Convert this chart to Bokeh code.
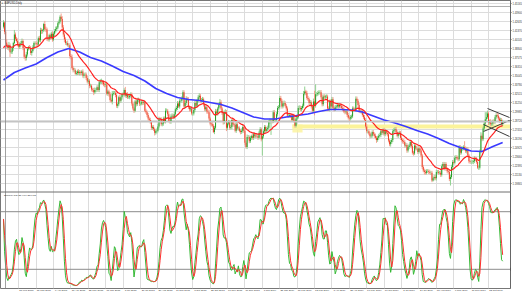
import numpy as np
from bokeh.plotting import figure
from bokeh.models import (Range1d, FixedTicker, Grid, Label, Span, NumeralTickFormatter,
                          ColumnDataSource, AllLabels)
from bokeh.embed import file_html
from bokeh.resources import INLINE

# ---------------- data (GBPUSD daily, one line per week) ----------------
first_open = 1.4190
close = [
 1.4250, 1.4120,
 1.3970, 1.3920, 1.3890, 1.3930, 1.3830,
 1.3840, 1.3890, 1.3960, 1.4080, 1.4020,
 1.3990, 1.3940, 1.3910, 1.3950, 1.3960,
 1.3990, 1.3890, 1.3770, 1.3750, 1.3800,
 1.3880, 1.3900, 1.3890, 1.3820, 1.3850,
 1.3900, 1.3960, 1.3960, 1.3950, 1.3940,
 1.4030, 1.4000, 1.4140, 1.4130, 1.4140,
 1.4230, 1.4160, 1.4150, 1.4020, 1.4010,
 1.4070, 1.4040, 1.4090, 1.4010, 1.4090,
 1.4130, 1.4160, 1.4180, 1.4240, 1.4260,
 1.4330, 1.4300, 1.4180, 1.4080, 1.4010,
 1.3960, 1.3960, 1.3930, 1.3930, 1.3780,
 1.3760, 1.3610, 1.3580, 1.3580, 1.3530,
 1.3540, 1.3560, 1.3540, 1.3550, 1.3540,
 1.3560, 1.3500, 1.3520, 1.3520, 1.3470,
 1.3420, 1.3430, 1.3360, 1.3360, 1.3310,
 1.3300, 1.3270, 1.3300, 1.3300, 1.3340,
 1.3300, 1.3410, 1.3420, 1.3420, 1.3410,
 1.3380, 1.3370, 1.3380, 1.3250, 1.3280,
 1.3240, 1.3160, 1.3140, 1.3250, 1.3260,
 1.3260, 1.3230, 1.3080, 1.3100, 1.3200,
 1.3150, 1.3200, 1.3240, 1.3240, 1.3300,
 1.3220, 1.3240, 1.3200, 1.3200, 1.3220,
 1.3240, 1.3110, 1.3040, 1.3010, 1.3140,
 1.3100, 1.3160, 1.3160, 1.3110, 1.3110,
 1.3130, 1.3120, 1.3130, 1.3010, 1.2990,
 1.2950, 1.2900, 1.2880, 1.2850, 1.2770,
 1.2780, 1.2750, 1.2700, 1.2720, 1.2730,
 1.2790, 1.2890, 1.2890, 1.2820, 1.2830,
 1.2900, 1.2860, 1.3010, 1.3010, 1.2960,
 1.2870, 1.2860, 1.2930, 1.2940, 1.2920,
 1.2960, 1.3030, 1.3050, 1.3110, 1.3070,
 1.3150, 1.3150, 1.3190, 1.3270, 1.3070,
 1.3120, 1.3180, 1.3170, 1.3060, 1.3030,
 1.3040, 1.2970, 1.2970, 1.3020, 1.3120,
 1.3080, 1.3150, 1.3200, 1.3220, 1.3150,
 1.3160, 1.3170, 1.3100, 1.3030, 1.3060,
 1.3000, 1.2990, 1.2900, 1.2830, 1.2820,
 1.2800, 1.2710, 1.2770, 1.3000, 1.2970,
 1.3040, 1.3090, 1.3130, 1.3040, 1.2980,
 1.2850, 1.2990, 1.2990, 1.2770, 1.2830,
 1.2850, 1.2770, 1.2780, 1.2880, 1.2820,
 1.2810, 1.2730, 1.2820, 1.2760, 1.2760,
 1.2730, 1.2710, 1.2730, 1.2780, 1.2730,
 1.2560, 1.2500, 1.2640, 1.2640, 1.2580,
 1.2630, 1.2650, 1.2630, 1.2680, 1.2650,
 1.2660, 1.2650, 1.2630, 1.2700,
 1.2750, 1.2610, 1.2650, 1.2720,
 1.2780, 1.2730, 1.2750, 1.2770, 1.2850,
 1.2870, 1.2870, 1.2860, 1.2990, 1.2880,
 1.2880, 1.2960, 1.3050, 1.3060, 1.3190,
 1.3150, 1.3070, 1.3110, 1.3120, 1.3080,
 1.3040, 1.2940, 1.2940, 1.2950, 1.2940,
 1.2880, 1.2940, 1.2870, 1.2800, 1.2900,
 1.2920, 1.3050, 1.3050, 1.3030, 1.3050,
 1.3080, 1.3250, 1.3280, 1.3260, 1.3190,
 1.3170, 1.3120, 1.3130, 1.3070, 1.3010,
 1.3140, 1.3080, 1.3240, 1.3240, 1.3260,
 1.3270, 1.3270, 1.3200, 1.3100, 1.3210,
 1.3200, 1.3210, 1.3210, 1.3040, 1.3030,
 1.3140, 1.3070, 1.3170, 1.3050, 1.3030,
 1.3060, 1.3070, 1.3090, 1.3070, 1.3090,
 1.3080, 1.3050, 1.3030, 1.3000, 1.2990,
 1.3000, 1.2950, 1.2910, 1.2900, 1.2920,
 1.2930, 1.3040, 1.3030, 1.3030, 1.3180,
 1.3150, 1.3090, 1.3010, 1.3000, 1.3000,
 1.2950, 1.2920, 1.2880, 1.2790, 1.2720,
 1.2720, 1.2690, 1.2650, 1.2660, 1.2710,
 1.2680, 1.2660, 1.2630, 1.2600, 1.2630,
 1.2660, 1.2670, 1.2720, 1.2700, 1.2740,
 1.2680, 1.2720, 1.2700, 1.2680, 1.2590,
 1.2540, 1.2570, 1.2600, 1.2720, 1.2740,
 1.2750, 1.2710, 1.2660, 1.2690, 1.2700,
 1.2630, 1.2600, 1.2580, 1.2570, 1.2520,
 1.2530, 1.2450, 1.2500, 1.2520, 1.2570,
 1.2510, 1.2420, 1.2410, 1.2520, 1.2480,
 1.2480, 1.2430, 1.2480, 1.2450, 1.2380,
 1.2220, 1.2170, 1.2150, 1.2140, 1.2160,
 1.2160, 1.2150, 1.2140, 1.2140, 1.2030,
 1.2060, 1.2080, 1.2060, 1.2150, 1.2150,
 1.2140, 1.2140, 1.2110, 1.2230, 1.2260,
 1.2200, 1.2260, 1.2190, 1.2160, 1.2150,
 1.2050, 1.2080, 1.2220, 1.2290, 1.2280,
 1.2350, 1.2360, 1.2340, 1.2330, 1.2500,
 1.2420, 1.2480, 1.2480, 1.2500, 1.2480,
 1.2440, 1.2470, 1.2380, 1.2300, 1.2290,
 1.2290, 1.2290, 1.2300, 1.2340, 1.2330,
 1.2290, 1.2210, 1.2210, 1.2440, 1.2660,
 1.2610, 1.2760, 1.2830, 1.2890, 1.2920,
 1.2970, 1.2840, 1.2860, 1.2820, 1.2830,
 1.2860, 1.2850, 1.2920, 1.2950, 1.2940,
 1.2900, 1.2870, 1.2880, 1.2820, 1.2855,
]
# upper / lower shadows beyond the body, in pips
wick_up = [
 32, 18,
 22, 41, 28, 47, 26,  33, 24, 19, 65, 29,  27, 36, 38, 21, 31,  34, 23, 18, 29, 37,
 26, 21, 33, 28, 39,  31, 24, 22, 29, 27,  23, 32, 36, 28, 19,  16, 42, 31, 27, 22,
 21, 26, 29, 37, 24,  27, 33, 21, 24, 31,  22, 46, 38, 33, 29,  31, 24, 36, 27, 28,
 26, 38, 31, 33, 24,  29, 27, 34, 31, 23,  24, 32, 21, 28, 26,  31, 33, 24, 29, 22,
 23, 31, 36, 28, 27,  32, 24, 33, 41, 23,  28, 26, 37, 29, 24,  26, 31, 23, 36, 28,
 29, 24, 32, 26, 21,  31, 23, 22, 28, 26,  45, 24, 31, 33, 27,  28, 26, 29, 24, 22,
 27, 31, 34, 23, 29,  31, 26, 33, 24, 28,  23, 29, 26, 31, 21,  24, 28, 22, 27, 31,
 32, 36, 24, 28, 26,  27, 29, 34, 31, 23,  29, 26, 31, 33, 24,  31, 24, 29, 36, 28,
 26, 31, 23, 28, 27,  29, 34, 26, 31, 24,  23, 31, 28, 26, 29,  31, 24, 29, 36, 27,
 29, 34, 26, 28, 24,  26, 29, 31, 23, 28,  31, 26, 28, 36, 29,  24, 31, 45, 28, 26,
 29, 24, 41, 31, 28,  31, 26, 29, 24, 31,  23, 29, 34, 26, 28,  29, 26, 31, 34, 24,
 26, 31, 36, 29, 23,  28, 24, 31, 26, 29,  24, 31, 26, 29,  31, 24, 28, 26,
 29, 26, 34, 31, 28,  31, 24, 29, 26, 31,  24, 31, 26, 29, 28,  29, 26, 31, 34, 24,
 26, 29, 24, 31, 26,  31, 24, 29, 26, 28,  24, 29, 36, 31, 26,  31, 38, 70, 24, 29,
 29, 26, 31, 24, 28,  41, 150, 141, 31, 29, 29, 26, 31, 38, 28,  31, 24, 28, 26, 31,
 26, 29, 34, 31, 24,  31, 26, 29, 24, 28,  24, 29, 26, 31, 26,  29, 24, 31, 26, 29,
 26, 31, 28, 24, 31,  29, 26, 31, 24, 28,  31, 24, 29, 26, 31,  24, 29, 26, 31, 24,
 31, 26, 29, 24, 28,  26, 31, 34, 29, 24,  31, 36, 24, 29, 26,  24, 29, 26, 31, 28,
 29, 31, 26, 24, 29,  26, 29, 24, 31, 26,  29, 24, 31, 26, 29,  24, 31, 26, 29, 24,
 31, 26, 29, 24, 31,  24, 29, 26, 31, 28,  29, 26, 31, 24, 26,  26, 31, 24, 29, 26,
 29, 24, 31, 26, 29,  31, 29, 26, 24, 29,  26, 29, 31, 28, 24,  29, 26, 24, 31, 28,
 26, 31, 29, 24, 82,  29, 26, 31, 24, 28,  24, 29, 26, 31, 24,  29, 24, 31, 26, 48,
 31, 26, 29, 99, 69,  42, 29, 26, 31, 24,  26, 31, 29, 24, 31,  29, 24, 31, 26, 29,
]
wick_dn = [
 24, 36,
 31, 39, 26, 34, 65,  22, 31, 38, 17, 26,  21, 26, 31, 34, 38,  26, 29, 31, 38, 34,
 29, 24, 21, 26, 36,  22, 31, 26, 29, 34,  31, 24, 29, 41, 36,  24, 31, 36, 29, 26,
 29, 36, 24, 31, 21,  31, 21, 34, 24, 22,  26, 29, 36, 31, 39,  24, 31, 21, 26, 36,
 29, 21, 31, 29, 16,  21, 29, 26, 34, 31,  31, 26, 34, 24, 29,  26, 31, 34, 24, 29,
 29, 41, 24, 31, 26,  24, 29, 26, 34, 31,  26, 31, 29, 24, 31,  31, 24, 21, 41, 26,
 24, 31, 29, 34, 26,  26, 29, 34, 24, 31,  24, 31, 26, 21, 29,  26, 29, 24, 31, 21,
 31, 24, 29, 34, 26,  24, 31, 26, 21, 24,  31, 26, 29, 24, 31,  29, 24, 38, 26, 31,
 24, 31, 29, 26, 29,  31, 26, 29, 24, 31,  24, 31, 34, 29, 26,  26, 29, 24, 31, 21,
 31, 24, 29, 26, 24,  24, 31, 29, 26, 31,  31, 24, 29, 26, 31,  29, 26, 24, 31, 26,
 24, 29, 31, 26, 29,  31, 24, 29, 26, 31,  24, 14, 29, 26, 31,  29, 26, 31, 24, 29,
 34, 29, 26, 46, 31,  26, 29, 24, 31, 26,  29, 24, 31, 26, 29,  24, 31, 26, 29, 31,
 31, 23, 29, 31, 26,  24, 29, 26, 31, 24,  29, 26, 31, 24,  26, 31, 230, 29,
 24, 31, 26, 29, 24,  26, 200, 29, 24, 31, 29, 24, 31, 26, 29,  24, 31, 26, 29, 24,
 31, 24, 29, 26, 31,  24, 29, 26, 27, 24,  29, 24, 31, 26, 29,  26, 29, 24, 31, 26,
 24, 31, 26, 29, 36,  31, 135, 26, 29, 24, 26, 31, 24, 29, 26,  24, 29, 26, 31, 24,
 29, 26, 31, 24, 29,  24, 31, 26, 29, 24,  31, 26, 29, 24, 31,  26, 29, 24, 36, 26,
 29, 24, 31, 26, 29,  31, 26, 29, 24, 31,  24, 29, 26, 31, 26,  29, 24, 31, 26, 29,
 26, 31, 24, 41, 26,  29, 24, 31, 26, 29,  24, 29, 26, 31, 24,  29, 34, 26, 31, 24,
 26, 29, 24, 31, 26,  29, 24, 31, 26, 29,  24, 31, 26, 29, 24,  29, 26, 31, 24, 29,
 26, 29, 24, 31, 26,  31, 24, 36, 29, 26,  24, 29, 26, 31, 24,  15, 29, 26, 31, 24,
 29, 24, 31, 26, 29,  26, 31, 24, 29, 26,  29, 91, 26, 31, 24,  26, 29, 24, 31, 26,
 29, 24, 31, 26, 29,  24, 31, 26, 29, 24,  29, 24, 31, 26, 29,  24, 20, 31, 26, 29,
 29, 24, 31, 26, 29,  24, 31, 26, 29, 24,  29, 26, 24, 31, 26,  24, 29, 26, 31, 24,
]
ema_period = 20
ema_seed = 1.3856
# blue moving average (bar index, price)
ma_blue_bars = [0, 10, 20, 30, 40, 50, 60, 70, 80, 90, 100, 110, 120, 130, 140, 150, 160, 170,
                180, 190, 200, 210, 220, 230, 240, 250, 260, 270, 280, 290, 300, 310, 320, 330,
                340, 350, 360, 370, 380, 390, 400, 410, 420, 430, 440, 450, 459]
ma_blue_vals = [1.3442, 1.3547, 1.3610, 1.3666, 1.3758, 1.3835, 1.3884, 1.3835, 1.3758, 1.3709,
                1.3638, 1.3561, 1.3505, 1.3428, 1.3322, 1.3252, 1.3196, 1.3168, 1.3154, 1.3126,
                1.3097, 1.3048, 1.2985, 1.2922, 1.2894, 1.2894, 1.2922, 1.2943, 1.2964, 1.2999,
                1.3027, 1.3027, 1.3020, 1.2992, 1.2936, 1.2880, 1.2838, 1.2788, 1.2732, 1.2683,
                1.2620, 1.2549, 1.2493, 1.2444, 1.2437, 1.2507, 1.2564]
price_ticks = [1.45165, 1.43900, 1.42635, 1.41370, 1.40105, 1.38840, 1.37575, 1.36310, 1.35045,
               1.33780, 1.32515, 1.31250, 1.29985, 1.28720, 1.27455, 1.26190, 1.24925, 1.23660,
               1.22395, 1.21130, 1.19865]
date_bars = [14, 30, 46, 62, 78, 94, 110, 126, 142, 158, 174, 190, 206, 222, 238, 254, 270, 286,
             302, 318, 334, 350, 366, 382, 398, 414, 430, 446]
date_labels = ["21 Feb 2018", "15 Mar 2018", "6 Apr 2018", "30 Apr 2018", "22 May 2018",
               "13 Jun 2018", "5 Jul 2018", "27 Jul 2018", "20 Aug 2018", "11 Sep 2018",
               "3 Oct 2018", "25 Oct 2018", "16 Nov 2018", "10 Dec 2018", "3 Jan 2019",
               "25 Jan 2019", "18 Feb 2019", "12 Mar 2019", "3 Apr 2019", "25 Apr 2019",
               "17 May 2019", "10 Jun 2019", "2 Jul 2019", "24 Jul 2019", "15 Aug 2019",
               "6 Sep 2019", "30 Sep 2019", "22 Oct 2019"]
first_date = "1 Feb 2018"
top_line_price = 1.44745
# support zone and triangle lines (bar, price)
zone = dict(x0=265.7, x1=466.2, top=1.28165, bottom=1.27603)
zone_left = dict(x0=265.7, x1=275.0, top=1.28165, bottom=1.27041)
tri_lines = [((445.1, 1.30412), (465.3, 1.29148)),
             ((441.4, 1.28165), (465.3, 1.26479)),
             ((441.4, 1.27182), (465.3, 1.28727))]
stoch_k, stoch_slow, stoch_d = 14, 3, 3
levels = [80, 20]

# ---------------- computations ----------------
n = min(len(close), len(wick_up), len(wick_dn))
c = np.array(close[:n])
o = np.empty(n); o[0] = first_open; o[1:] = c[:-1]
hi = np.maximum(o, c) + np.array(wick_up[:n]) * 1e-4
lo = np.minimum(o, c) - np.array(wick_dn[:n]) * 1e-4
idx = np.arange(n)
bull = c >= o

a = 2.0 / (ema_period + 1)
ema = np.empty(n); prev = ema_seed
for i in range(n):
    prev = prev + a * (c[i] - prev); ema[i] = prev

ll = np.array([lo[max(0, i - stoch_k + 1):i + 1].min() for i in range(n)])
hh = np.array([hi[max(0, i - stoch_k + 1):i + 1].max() for i in range(n)])
num = c - ll; den = hh - ll
K = np.array([100 * num[max(0, i - stoch_slow + 1):i + 1].sum() /
              max(den[max(0, i - stoch_slow + 1):i + 1].sum(), 1e-9) for i in range(n)])
D = np.array([K[max(0, i - stoch_d + 1):i + 1].mean() for i in range(n)])

FONT = "Liberation Sans"
PX = 0.001405          # price per pixel in the main pane
TOP = 1.45587          # price at the top edge
FRAME_H = 288
xr = Range1d(-3 / 1.0875, 507 / 1.0875)

# one frame: price pane on top (0..191 px), stochastic pane below (192..288 px)
p = figure(frame_width=510, frame_height=FRAME_H, x_range=xr,
           y_range=Range1d(TOP - FRAME_H * PX, TOP),
           x_axis_location="below", y_axis_location="right", toolbar_location=None,
           output_backend="svg", min_border=0, outline_line_color="#777777")
p.extra_y_ranges = {"stoch": Range1d(0, 300)}
p.title.visible = False
p.grid.visible = False
p.add_layout(Grid(dimension=0, ticker=FixedTicker(ticks=date_bars), grid_line_color="#dcdcdc"))
p.add_layout(Grid(dimension=1, ticker=FixedTicker(ticks=price_ticks), grid_line_color="#dcdcdc"))

ax = p.yaxis[0]
ax.ticker = FixedTicker(ticks=price_ticks)
ax.formatter = NumeralTickFormatter(format="0.00000")
ax.major_label_text_font_size = "2.6px"
ax.major_label_text_font = FONT
ax.major_label_text_color = "#333333"
ax.major_label_standoff = 1
ax.major_tick_out = 1
ax.major_tick_in = 0
ax.minor_tick_out = 0
ax.minor_tick_in = 0
ax.axis_line_color = "#666666"
ax.major_tick_line_color = "#666666"
ax.major_label_policy = AllLabels()

bx = p.xaxis[0]
bx.ticker = FixedTicker(ticks=[b + 7 for b in date_bars])
bx.major_label_overrides = {b + 7: t for b, t in zip(date_bars, date_labels)}
bx.major_label_text_font_size = "2.5px"
bx.major_label_text_font = FONT
bx.major_label_text_color = "#333333"
bx.major_label_standoff = 1
bx.major_tick_out = 0
bx.major_tick_in = 0
bx.minor_tick_out = 0
bx.minor_tick_in = 0
bx.axis_line_color = None
bx.major_label_policy = AllLabels()

# ---- price pane ----
p.quad(left=[zone["x0"]], right=[zone["x1"]], top=[zone["top"]], bottom=[zone["bottom"]],
       fill_color="#fbf39a", line_color=None)
p.quad(left=[zone_left["x0"]], right=[zone_left["x1"]], top=[zone_left["top"]],
       bottom=[zone_left["bottom"]], fill_color="#fbf39a", fill_alpha=0.8, line_color=None)
p.add_layout(Span(location=c[-1], dimension="width", line_color="#c4c4c4", line_width=1.6))
p.add_layout(Span(location=top_line_price, dimension="width", line_color="#9a9a9a", line_width=0.8))
p.add_layout(Span(location=1.84, dimension="height", line_color="#8a8a8a", line_width=0.8))

src = ColumnDataSource(dict(
    x=idx, hi=hi, lo=lo, top=np.maximum(o, c), bot=np.minimum(o, c),
    wcol=np.where(bull, "#8fd18f", "#f4a08e"),
    bcol=np.where(bull, "#1f9a1f", "#ee3a22")))
p.segment(x0="x", y0="lo", x1="x", y1="hi", source=src, line_color="wcol", line_width=1)
p.vbar(x="x", width=0.85, top="top", bottom="bot", source=src, fill_color="bcol", line_color=None)

p.line(ma_blue_bars, ma_blue_vals, line_color="#3a3aff", line_width=1.6)
p.line(idx, ema, line_color="#ff2020", line_width=1.2)
for (xa, ya), (xb, yb) in tri_lines:
    p.line([xa, xb], [ya, yb], line_color="#3a3a3a", line_width=1)

# pane separator
p.add_layout(Span(location=TOP - 191.5 * PX, dimension="width", line_color="#6e6e6e", line_width=1))

p.add_layout(Label(x=-2.2, y=1.4524, text="▼", text_font_size="2.4px", text_baseline="middle",
                   text_color="#333333"))
p.add_layout(Label(x=0.8, y=1.4524, text="GBPUSD,Daily", text_font=FONT, text_font_size="2.6px",
                   text_baseline="middle", text_color="#222222"))
p.add_layout(Label(x=466.4, y=c[-1], text=f"{c[-1]:.5f}", text_font=FONT, text_font_size="2.6px",
                   text_baseline="middle", text_color="white", background_fill_color="black"))
p.add_layout(Label(x=466.4, y=top_line_price, text=f"{top_line_price:.5f}", text_font=FONT,
                   text_font_size="2.6px", text_baseline="middle", text_color="white",
                   background_fill_color="#333333"))

# ---- stochastic pane ----
for lv in levels:
    p.line([xr.start, xr.end], [lv, lv], y_range_name="stoch", line_color="#8c8c8c", line_width=1)
    p.add_layout(Label(x=466.4, y=lv, y_range_name="stoch", text=str(lv), text_font=FONT,
                       text_font_size="2.6px", text_baseline="middle", text_color="white",
                       background_fill_color="black"))
for lv, base in ((100, "top"), (0, "bottom")):
    p.add_layout(Label(x=466.6, y=lv, y_range_name="stoch", text=str(lv), text_font=FONT,
                       text_font_size="2.6px", text_baseline=base, text_color="#333333"))
p.line(idx, K, y_range_name="stoch", line_color="#33b833", line_width=1)
p.line(idx, D, y_range_name="stoch", line_color="#ff3030", line_width=1)
p.add_layout(Label(x=0.5, y=98, y_range_name="stoch",
                   text=f"Stoch({stoch_k},{stoch_slow},{stoch_d}) {K[-1]:.4f} {D[-1]:.4f}",
                   text_font=FONT, text_font_size="2.3px", text_baseline="top", text_color="#222222"))
p.add_layout(Label(x=-2.75, y=-0.5, y_range_name="stoch", text=first_date, text_font=FONT,
                   text_font_size="2.5px", text_baseline="top", text_color="white",
                   background_fill_color="black"))

open("out.html", "w").write(file_html(p, INLINE))
